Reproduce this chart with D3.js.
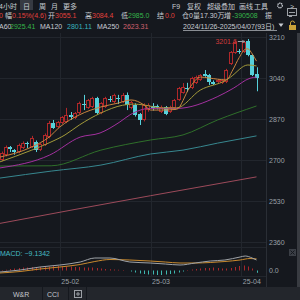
<!DOCTYPE html>
<html>
<head>
<meta charset="utf-8">
<script src="https://cdn.jsdelivr.net/npm/d3@7"></script>
<style>
  body { margin: 0; background: #15181e; overflow: hidden; }
  svg { display: block; font-family: "Liberation Sans", "Noto Sans CJK SC", sans-serif; }
</style>
</head>
<body>
<div id="svg-container"></div>
<script>
////////////////////////////  Data  ////////////////////////////////
// daily candles, visible window (oldest -> newest)
const opens = [2700, 2721, 2752, 2740, 2733, 2750, 2770, 2754, 2775, 2741,
  2762, 2795, 2853, 2837, 2853, 2858, 2886, 2874, 2895, 2934,
  2916, 2920, 2957, 2895, 2920, 2955, 2940, 2957, 2940, 2970,
  2916, 2928, 2891, 2866, 2907, 2922, 2924, 2899, 2920, 2899,
  2916, 2949, 2978, 3000, 2999, 3019, 3032, 3057, 3052, 3023,
  3023, 3019, 3023, 3098, 3144, 3152, 3148, 3193, 3135, 3055.1];
const highs = [2735, 2760, 2758, 2745, 2768, 2777, 2776, 2800, 2781, 2772,
  2810, 2862, 2866, 2862, 2882, 2916, 2899, 2899, 2942, 2970,
  2953, 2962, 2962, 2940, 2962, 2965, 2975, 2970, 2978, 2980,
  2945, 2935, 2895, 2935, 2935, 2936, 2930, 2926, 2924, 2925,
  2953, 3003, 3019, 3020, 3045, 3050, 3056, 3073, 3057, 3030,
  3036, 3036, 3078, 3152, 3195, 3160, 3195, 3201.6, 3140, 3084.4];
const lows = [2695, 2715, 2733, 2722, 2728, 2745, 2750, 2750, 2733, 2737,
  2758, 2790, 2829, 2833, 2849, 2853, 2866, 2870, 2890, 2907,
  2912, 2915, 2888, 2890, 2916, 2940, 2935, 2932, 2936, 2907,
  2910, 2880, 2845, 2860, 2900, 2905, 2910, 2895, 2886, 2895,
  2912, 2945, 2975, 2982, 2994, 3015, 3028, 3045, 3011, 3011,
  3019, 3015, 3019, 3094, 3140, 3140, 3144, 3130, 3048, 2985];
const closes = [2729, 2754, 2746, 2734, 2762, 2771, 2765, 2791, 2741, 2766,
  2804, 2853, 2833, 2858, 2878, 2887, 2880, 2895, 2936, 2928,
  2949, 2957, 2895, 2936, 2957, 2950, 2970, 2951, 2970, 2928,
  2940, 2887, 2866, 2928, 2928, 2916, 2918, 2920, 2891, 2920,
  2949, 2999, 3003, 2994, 3040, 3044, 3052, 3050, 3023, 3017,
  3032, 3032, 3073, 3148, 3189, 3146, 3189, 3135, 3052, 3040];

// moving averages: [candle index, value]
const ma5 = [[-0.4, 2712], [7, 2754], [11, 2795], [13.5, 2837], [18, 2887], [23, 2920], [27, 2936],
  [30, 2949], [33, 2928], [34.5, 2907], [37, 2907], [40.5, 2910], [43.5, 2999], [46, 3044],
  [48, 3040], [52, 3032], [53.5, 3073], [55, 3125], [56.5, 3160], [57, 3161], [58, 3140], [59, 3110]];
const ma10 = [[-0.4, 2692], [7, 2741], [11, 2771], [14.7, 2804], [18, 2845], [23, 2895], [28, 2927],
  [30.5, 2932], [33, 2928], [37, 2916], [40.5, 2916], [46, 2990], [52, 3032], [53, 3044],
  [57, 3094], [59, 3090]];
const ma20 = [[-0.4, 2667], [11.2, 2721], [18.2, 2795], [22.8, 2812], [27.4, 2858], [29.7, 2887],
  [34.4, 2914], [40.6, 2914], [49.9, 2962], [53.6, 2997], [57.5, 3039], [59, 3044]];
const ma60 = [[-0.4, 2675], [11.5, 2676], [23, 2741], [34.5, 2783], [42, 2804], [50, 2866], [59, 2924]];
const ma120 = [[-0.4, 2625], [11.5, 2654], [23, 2679], [34.5, 2725], [42, 2741], [50, 2770], [59, 2800]];
const ma250 = [[-0.4, 2437], [17, 2495], [34.5, 2552], [59, 2630]];

// MACD panel
const difPts = [[-0.4, -6], [4.3, 2], [8.9, 14], [13.5, 22], [18.2, 34], [21.6, 50], [25.1, 50],
  [29.7, 34], [34.4, 30], [37.9, 26], [41.3, 22], [44.8, 30], [48.3, 38], [51.7, 42],
  [55.2, 54], [56.4, 58], [58, 50], [59, 42]];
const deaPts = [[-0.4, -10], [4.3, -4], [8.9, 6], [13.5, 14], [18.2, 24], [21.6, 36], [25.1, 44],
  [29.7, 42], [34.4, 38], [37.9, 34], [41.3, 30], [44.8, 30], [48.3, 32], [51.7, 36],
  [55.2, 42], [57.5, 48], [59, 46.6]];
const macdBars = [2, 3, 6, 8, 10, 12, 12, 14, 14, 14,
  16, 16, 18, 18, 16, 16, 16, 14, 14, 12,
  12, 12, 10, 8, 6, 5, 4, 3, 2, 0,
  -4, -8, -12, -14, -16, -16, -18, -18, -16, -14,
  -12, -8, -4, 2, 4, 6, 8, 10, 10, 12,
  10, 8, 8, 10, 14, 18, 20, 16, 8, -9.1342];

const priceTicks = [2360, 2530, 2700, 2870, 3040, 3210];
const monthTicks = [13.5, 34.5, 55.5];
const monthLabels = ["25-02", "25-03", "25-04"];

////////////////////////////  Init  ////////////////////////////////
const width = 300, height = 300;
const plotRight = 266;
const svg = d3.select("#svg-container").append("svg")
  .attr("width", width).attr("height", height);

svg.append("rect").attr("width", width).attr("height", height).attr("fill", "#15181e");

const x = d3.scaleLinear().domain([0, opens.length - 1]).range([1.5, 256.5]);
const y = d3.scaleLinear().domain([2360, 3210]).range([242, 37]);
const my = d3.scaleLinear().domain([-20, 60]).range([275.5, 255.5]);

const gridColor = "#22262d";
const axisText = "#9ba0a7";

// grid
svg.append("g").selectAll("line").data(priceTicks).join("line")
  .attr("x1", 0).attr("x2", plotRight)
  .attr("y1", d => Math.round(y(d)) + 0.5).attr("y2", d => Math.round(y(d)) + 0.5)
  .attr("stroke", gridColor);
svg.append("g").selectAll("line").data(monthTicks).join("line")
  .attr("x1", d => Math.round(x(d)) + 0.5).attr("x2", d => Math.round(x(d)) + 0.5)
  .attr("y1", 33).attr("y2", 277)
  .attr("stroke", gridColor);
// panel separators
svg.append("line").attr("x1", 0).attr("x2", plotRight).attr("y1", 247.5).attr("y2", 247.5).attr("stroke", gridColor);
svg.append("line").attr("x1", 0).attr("x2", plotRight).attr("y1", 276.5).attr("y2", 276.5).attr("stroke", gridColor);
svg.append("line").attr("x1", plotRight + 0.5).attr("x2", plotRight + 0.5).attr("y1", 33).attr("y2", 287).attr("stroke", "#2a2e35");

// clip
svg.append("clipPath").attr("id", "clip-price")
  .append("rect").attr("x", 0).attr("y", 33).attr("width", plotRight).attr("height", 214);
svg.append("clipPath").attr("id", "clip-macd")
  .append("rect").attr("x", 0).attr("y", 248).attr("width", plotRight).attr("height", 28);

////////////////////////////  Price panel  /////////////////////////
const price = svg.append("g").attr("clip-path", "url(#clip-price)");

const maLine = d3.line().x(d => x(d[0])).y(d => y(d[1])).curve(d3.curveMonotoneX);
const maSeries = [
  { pts: ma250, color: "#9c4a5a" },
  { pts: ma120, color: "#37878f" },
  { pts: ma60, color: "#2f6f2a" },
  { pts: ma20, color: "#a3309f" },
  { pts: ma10, color: "#a39a3a" },
  { pts: ma5, color: "#c9843e" },
];

const data = opens.map((o, i) => ({ i, o, h: highs[i], l: lows[i], c: closes[i] }));
const upColor = "#b0282a";
const downColor = "#56d0da";

const candle = price.append("g").selectAll("g").data(data).join("g");
candle.each(function (d) {
  const g = d3.select(this);
  const cx = Math.round(x(d.i));
  const up = d.c >= d.o;
  const top = Math.round(y(Math.max(d.o, d.c)));
  const bot = Math.round(y(Math.min(d.o, d.c)));
  if (up) {
    g.append("line").attr("x1", cx + 0.5).attr("x2", cx + 0.5)
      .attr("y1", y(d.h)).attr("y2", top).attr("stroke", upColor);
    g.append("line").attr("x1", cx + 0.5).attr("x2", cx + 0.5)
      .attr("y1", bot).attr("y2", y(d.l)).attr("stroke", upColor);
    g.append("rect").attr("x", cx - 1.5).attr("y", top + 0.5)
      .attr("width", 3).attr("height", Math.max(bot - top - 1, 1))
      .attr("fill", "none").attr("stroke", upColor);
  } else {
    g.append("line").attr("x1", cx + 0.5).attr("x2", cx + 0.5)
      .attr("y1", y(d.h)).attr("y2", y(d.l)).attr("stroke", downColor);
    g.append("rect").attr("x", cx - 2).attr("y", top)
      .attr("width", 4).attr("height", Math.max(bot - top, 1))
      .attr("fill", downColor);
  }
});

price.append("g").selectAll("path").data(maSeries).join("path")
  .attr("d", d => maLine(d.pts))
  .attr("fill", "none")
  .attr("stroke", d => d.color)
  .attr("stroke-width", 1);

// max marker
const maxIdx = d3.maxIndex(highs);
const mx = x(maxIdx), mY = Math.round(y(highs[maxIdx])) + 2;
svg.append("text").attr("x", mx - 11).attr("y", mY + 2.5)
  .attr("text-anchor", "end").attr("font-size", 7).attr("fill", "#d23b3b")
  .text(d3.format(".1f")(highs[maxIdx]));
svg.append("line").attr("x1", mx - 10).attr("x2", mx - 3).attr("y1", mY + 0.5).attr("y2", mY + 0.5)
  .attr("stroke", "#9aa0a6");
svg.append("path").attr("d", `M${mx - 3},${mY + 0.5}l-2.5,-1.8v3.6z`).attr("fill", "#9aa0a6");

// price axis
const yAxis = d3.axisRight(y).tickValues(priceTicks).tickFormat(d3.format("d")).tickSize(0).tickPadding(3);
svg.append("g").attr("transform", `translate(${plotRight},0)`).call(yAxis)
  .call(g => g.select(".domain").remove())
  .call(g => g.selectAll("text").attr("fill", axisText).attr("font-size", 7)
    .attr("font-family", "\"Liberation Sans\", sans-serif"));

////////////////////////////  MACD panel  //////////////////////////
const macd = svg.append("g").attr("clip-path", "url(#clip-macd)");
macd.append("g").selectAll("line").data(macdBars).join("line")
  .attr("x1", (d, i) => Math.round(x(i)) + 0.5).attr("x2", (d, i) => Math.round(x(i)) + 0.5)
  .attr("y1", my(0)).attr("y2", d => my(d))
  .attr("stroke", d => (d >= 0 ? "#a8262a" : "#3fb8b0"));
const macdLine = d3.line().x(d => x(d[0])).y(d => my(d[1])).curve(d3.curveMonotoneX);
macd.append("path").attr("d", macdLine(deaPts)).attr("fill", "none").attr("stroke", "#c98a2e");
macd.append("path").attr("d", macdLine(difPts)).attr("fill", "none").attr("stroke", "#9fa3a8");

svg.append("text").attr("x", 0).attr("y", 256).attr("font-size", 7)
  .attr("fill", "#45bcc4")
  .text("MACD: " + d3.format(".4f")(macdBars[macdBars.length - 1]));

const mAxis = d3.axisRight(my).tickValues([0]).tickFormat(d3.format(".1f")).tickSize(0).tickPadding(3);
svg.append("g").attr("transform", `translate(${plotRight},0)`).call(mAxis)
  .call(g => g.select(".domain").remove())
  .call(g => g.selectAll("text").attr("fill", axisText).attr("font-size", 7)
    .attr("font-family", "\"Liberation Sans\", sans-serif"));

// close box
svg.append("rect").attr("x", 289).attr("y", 249).attr("width", 7).attr("height", 7).attr("fill", "#3a3e45");
svg.append("path").attr("d", "M290.5,250.5l4,4M294.5,250.5l-4,4").attr("stroke", "#15181e");

// month axis
const xAxis = d3.axisBottom(x).tickValues(monthTicks).tickFormat((d, i) => monthLabels[i])
  .tickSize(0).tickPadding(0);
svg.append("g").attr("transform", "translate(0,279)").call(xAxis)
  .call(g => g.select(".domain").remove())
  .call(g => g.selectAll("text").attr("fill", axisText).attr("font-size", 7)
    .attr("text-anchor", "start").attr("dx", 1)
    .attr("font-family", "\"Liberation Sans\", sans-serif"));

// scroll strip
svg.append("rect").attr("x", 297).attr("y", 33).attr("width", 3).attr("height", 254).attr("fill", "#383b41");

////////////////////////////  Bottom tabs  /////////////////////////
svg.append("rect").attr("x", 0).attr("y", 287).attr("width", width).attr("height", 13).attr("fill", "#23262c");
[42, 68, 86].forEach(sx => svg.append("line").attr("x1", sx + 0.5).attr("x2", sx + 0.5)
  .attr("y1", 287).attr("y2", 300).attr("stroke", "#15181e"));
const tabs = svg.append("g").attr("font-size", 7).attr("fill", "#c3c7cd");
tabs.append("text").attr("x", 13).attr("y", 296.5).text("W&R");
tabs.append("text").attr("x", 47).attr("y", 296.5).text("CCI");
svg.append("rect").attr("x", 74.5).attr("y", 290.5).attr("width", 7).attr("height", 7)
  .attr("fill", "none").attr("stroke", "#9ca0a6");
svg.append("path").attr("d", "M78,292v4M76,294h4").attr("stroke", "#9ca0a6");

////////////////////////////  Header  //////////////////////////////
const head = svg.append("g").attr("font-size", 7);
const white = "#c8ccd2", red = "#e0403c", green = "#35b54a";
const put = (t, px, py, color) => head.append("text").attr("x", px).attr("y", py).attr("fill", color).text(t);

// row 1
head.append("rect").attr("x", 20).attr("y", 0).attr("width", 13).attr("height", 10).attr("fill", "#363a42");
put("4小时", -1, 8.5, white);
put("日", 23, 8.5, white);
put("周", 39, 8.5, white);
put("月", 51, 8.5, white);
put("更多", 63, 8.5, white);
put("F9", 172, 8.5, white);
put("复权", 187, 8.5, white);
put("超级叠加", 207, 8.5, white);
put("画线", 239, 8.5, white);
put("工具", 254, 8.5, white);
head.append("circle").attr("cx", 280).attr("cy", 5.5).attr("r", 2.3)
  .attr("fill", "none").attr("stroke", white).attr("stroke-width", 1.4).attr("stroke-dasharray", "1.2 0.6");
put(">", 290, 8.5, white);

// row 2
put("0", -1, 18, red);
put("幅", 5, 18, white);
put("0.15%(4.6)", 12, 18, red);
put("开", 48, 18, white);
put("3055.1", 55, 18, red);
put("高", 85, 18, white);
put("3084.4", 92, 18, red);
put("低", 121, 18, white);
put("2985.0", 128, 18, green);
put("结", 157, 18, white);
put("0.0", 165, 18, red);
put("仓0", 182, 18, white);
put("量17.30万", 193, 18, white);
put("增", 224, 18, white);
put("-390508", 232, 18, green);
put("振", 265, 18, white);
head.append("rect").attr("x", 287.5).attr("y", 8.5).attr("width", 9).attr("height", 7)
  .attr("fill", "none").attr("stroke", "#9ca0a6");
head.append("path").attr("d", "M289,12.5h6M289,16.5h3").attr("stroke", "#9ca0a6");

// row 3
put("A60", -1, 28.5, white);
put("2925.41", 10, 28.5, green);
put("MA120", 40, 28.5, white);
put("2801.11", 67, 28.5, "#38b6be");
put("MA250", 97, 28.5, white);
put("2623.31", 123, 28.5, "#d0606e");
put("2024/11/26-2025/04/07(93日)", 183, 28.5, white);
head.append("line").attr("x1", 183).attr("x2", 277).attr("y1", 30.5).attr("y2", 30.5).attr("stroke", "#8a8e94");
head.append("path").attr("d", "M278.5,23.5h5l-2.5,3.5z").attr("fill", white);
head.append("rect").attr("x", 289).attr("y", 25).attr("width", 7).attr("height", 5).attr("fill", "#c9a23a");
head.append("path").attr("d", "M290.5,25v-2a2,2 0 0 1 4,0").attr("fill", "none").attr("stroke", "#c9a23a");
</script>
</body>
</html>
